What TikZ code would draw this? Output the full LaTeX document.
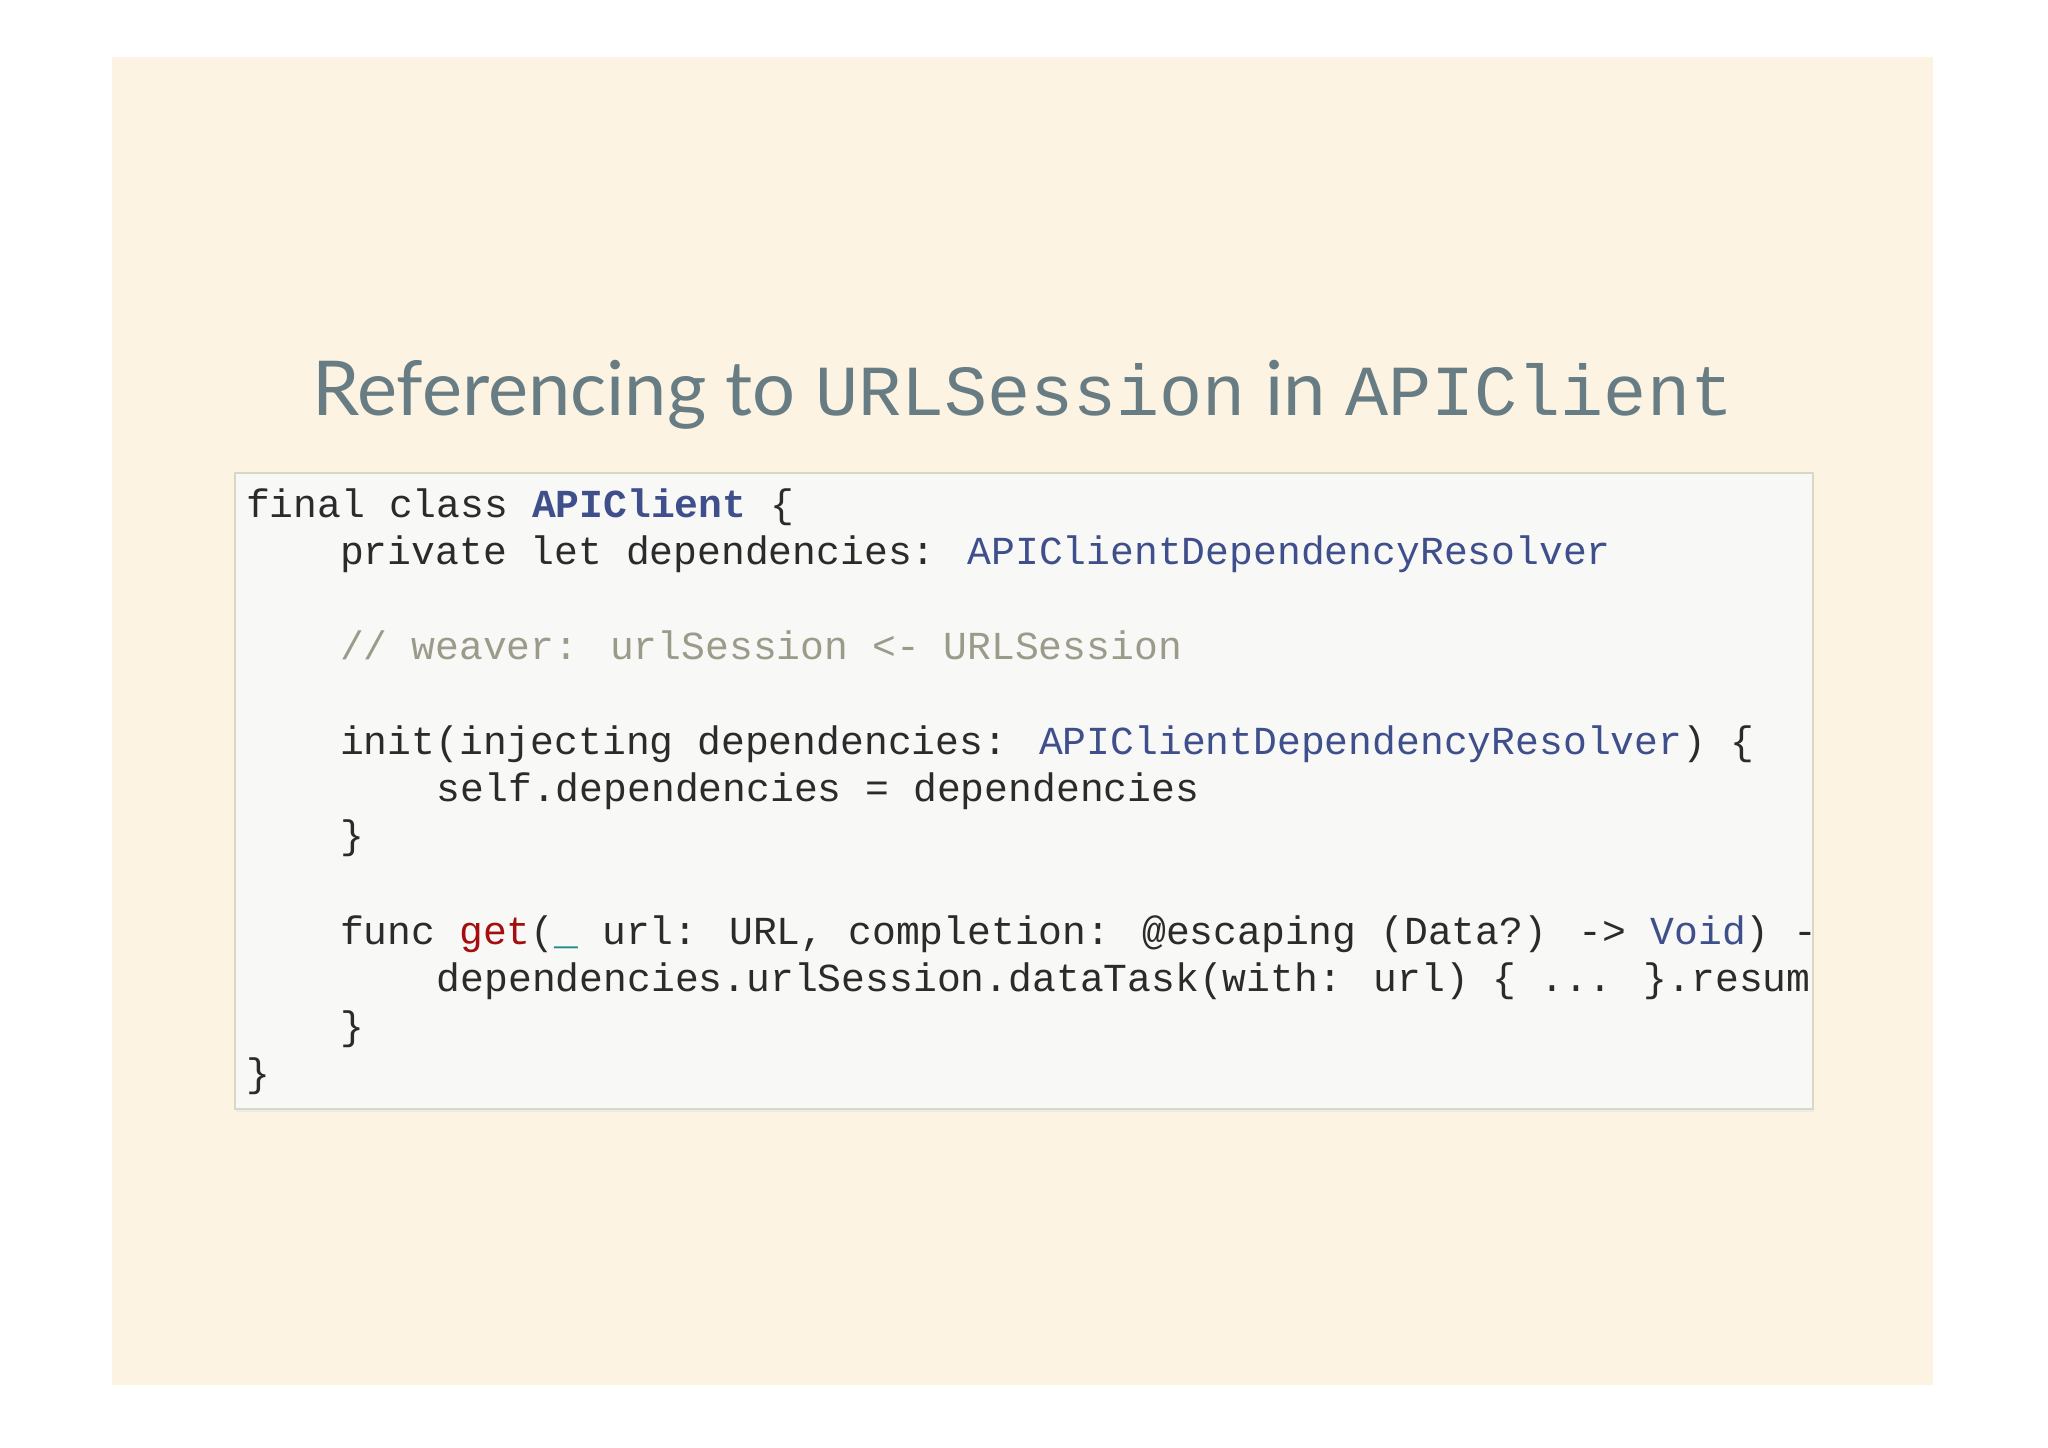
\documentclass[tikz,border=0pt]{standalone}
\usepackage{fontspec}
\setmainfont{Lato}
\newfontfamily\codefont{Liberation Mono}
\definecolor{bg}{HTML}{FDF3E3}
\definecolor{boxbg}{HTML}{F8F8F7}
\definecolor{boxln}{HTML}{D8D8C4}
\definecolor{ttl}{HTML}{677C83}
\definecolor{txt}{HTML}{2B2B2B}
\definecolor{typ}{HTML}{3E4F8C}
\definecolor{cmt}{HTML}{9C9B8A}
\definecolor{kwr}{HTML}{A50E0E}
\definecolor{tl}{HTML}{1A8A8A}
\begin{document}
\begin{tikzpicture}[x=0.5pt,y=-0.5pt,
  cl/.style={anchor=base west,inner sep=0pt,font=\codefont\fontsize{15.2}{18}\selectfont,text=txt}]
\useasboundingbox (0,0) rectangle (1568,1108);
\fill[white] (0,0) rectangle (1568,1108);
\fill[bg] (86,44) rectangle (1480,1060);
\node[anchor=base,inner sep=0pt,text=ttl] (title) at (783,318)
 {\fontsize{29}{34}\selectfont Referencing to {\codefont\fontsize{27.5}{34}\selectfont URLSession} in {\codefont\fontsize{27.5}{34}\selectfont APIClient}};
\fill[black!8] (181,364) rectangle (1389,851);
\node[draw=boxln,fill=boxbg,line width=0.8pt,minimum width=604pt,minimum height=243.5pt,inner sep=0pt,anchor=north west] (box) at (179,361) {};
\begin{scope}
\clip (179,361) rectangle (1387,848);
\node[cl] (l1) at (188,396) {final class {\bfseries\color{typ}APIClient} \{};
\node[cl] (l2) at (260,432) {private let dependencies: {\color{typ}APIClientDependencyResolver}};
\node[cl,text=cmt] (l3) at (260,505) {// weaver: urlSession <- URLSession};
\node[cl] (l4) at (260,578) {init(injecting dependencies: {\color{typ}APIClientDependencyResolver}) \{};
\node[cl] (l5) at (334,614) {self.dependencies = dependencies};
\node[cl] (l6) at (260,650) {\}};
\node[cl] (l7) at (260,723) {func {\color{kwr}get}({\color{tl}\_} url: URL, completion: @escaping (Data?) -> {\color{typ}Void}) -> Void \{};
\node[cl] (l8) at (334,759) {dependencies.urlSession.dataTask(with: url) \{ ... \}.resume()};
\node[cl] (l9) at (260,796) {\}};
\node[cl] (l10) at (188,832) {\}};
\end{scope}
\end{tikzpicture}
\end{document}
